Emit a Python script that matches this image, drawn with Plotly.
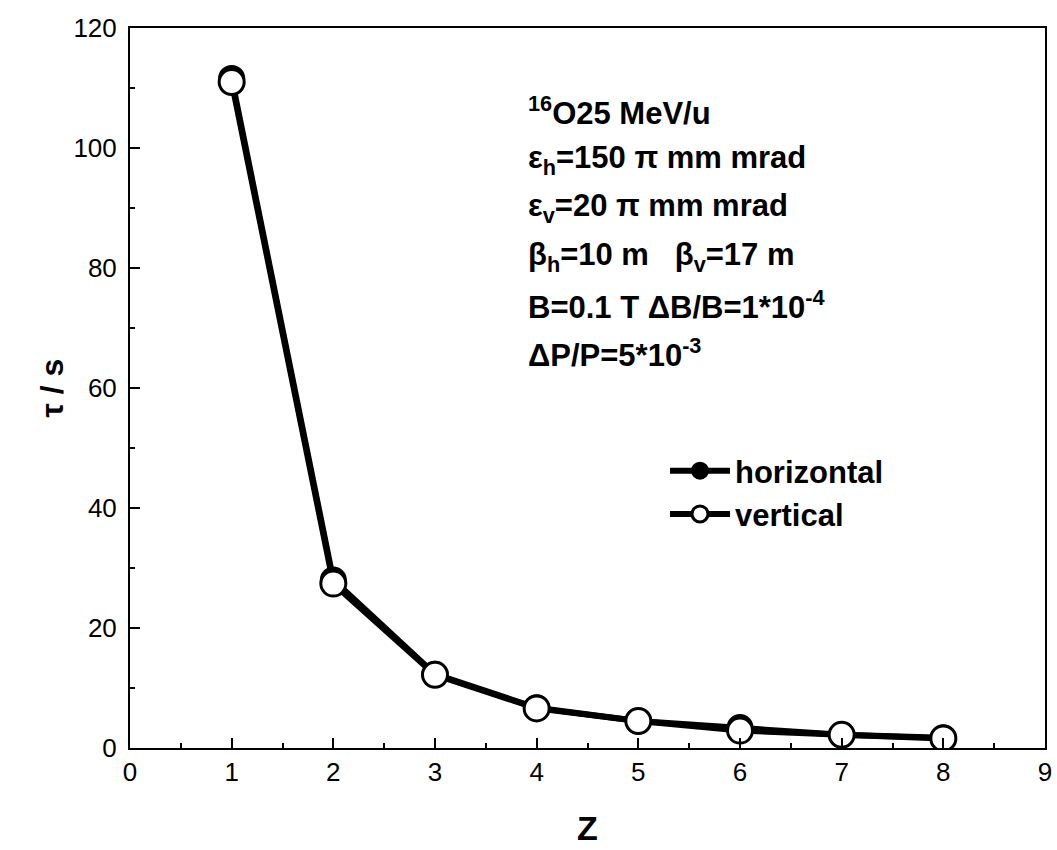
import plotly.graph_objects as go

Z = [1, 2, 3, 4, 5, 6, 7, 8]
tau_horizontal = [111.6, 28.0, 12.3, 6.7, 4.5, 3.4, 2.2, 1.7]
tau_vertical = [111.0, 27.4, 12.2, 6.6, 4.5, 2.9, 2.2, 1.6]

info_lines = [
    "<sup>16</sup>O25 MeV/u",
    "ε<sub>h</sub>=150 π mm mrad",
    "ε<sub>v</sub>=20 π mm mrad",
    "β<sub>h</sub>=10 m   β<sub>v</sub>=17 m",
    "B=0.1 T ΔB/B=1*10<sup>-4</sup>",
    "ΔP/P=5*10<sup>-3</sup>",
]

FONT = "Liberation Sans Narrow, Arial Narrow, Liberation Sans, Arial"
BOLD = "Liberation Sans, Arial"

fig = go.Figure()
fig.add_trace(go.Scatter(
    x=Z, y=tau_horizontal, name="<b>horizontal</b>", mode="lines+markers",
    line=dict(color="black", width=6),
    marker=dict(symbol="circle", size=25, color="black", line=dict(color="black", width=2)),
))
fig.add_trace(go.Scatter(
    x=Z, y=tau_vertical, name="<b>vertical</b>", mode="lines+markers",
    line=dict(color="black", width=6),
    marker=dict(symbol="circle", size=25, color="white", line=dict(color="black", width=3)),
))

y0 = 111
for i, t in enumerate(info_lines):
    fig.add_annotation(
        text="<b>" + t + "</b>", xref="paper", yref="paper",
        x=(526 - 130) / 915, y=(748 - (y0 + 48.5 * i)) / 720,
        xanchor="left", yanchor="middle", showarrow=False, align="left",
        font=dict(family=BOLD, size=31, color="black"),
    )

axis_common = dict(
    showline=True, linecolor="black", linewidth=2, mirror=True,
    ticks="inside", ticklen=10, tickwidth=2, tickcolor="black",
    showgrid=False, zeroline=False, automargin=False,
    tickfont=dict(family=FONT, size=26, color="black"),
)

fig.update_xaxes(
    range=[0, 9], dtick=1, tick0=0,
    minor=dict(dtick=0.5, ticks="inside", ticklen=5, tickwidth=2, tickcolor="black"),
    title=dict(text="<b>Z</b>", font=dict(family=BOLD, size=34, color="black"), standoff=30),
    ticklabelstandoff=0,
    **axis_common,
)
fig.update_yaxes(
    range=[0, 120], dtick=20, tick0=0,
    minor=dict(dtick=10, ticks="inside", ticklen=5, tickwidth=2, tickcolor="black"),
    title=dict(text="<b>τ / s</b>", font=dict(family=BOLD, size=32, color="black"), standoff=0),
    ticklabelstandoff=6,
    **axis_common,
)

fig.update_layout(
    width=1057, height=850,
    margin=dict(l=130, r=12, t=28, b=102),
    plot_bgcolor="white", paper_bgcolor="white",
    showlegend=True,
    legend=dict(
        x=(665 - 130) / 915, y=(748 - 444) / 720, xanchor="left", yanchor="top",
        font=dict(family=BOLD, size=31, color="black"),
        bgcolor="rgba(0,0,0,0)", tracegroupgap=0, itemwidth=60,
    ),
)

fig.write_html(
    "out.html",
    config={"displayModeBar": False},
    post_script="document.body.style.margin='0';document.body.style.overflow='hidden';",
)
